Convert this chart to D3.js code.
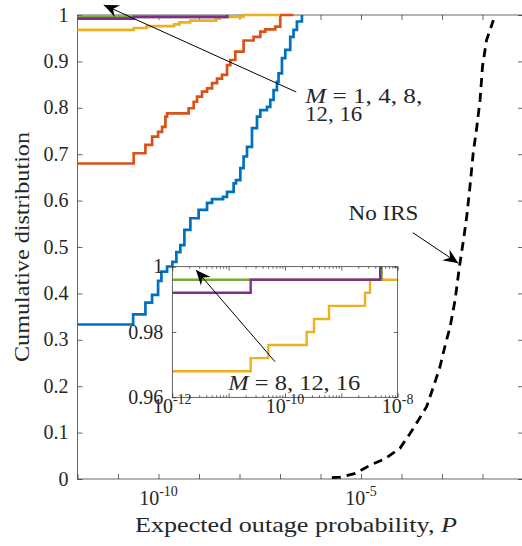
<!DOCTYPE html>
<html>
<head>
<meta charset="utf-8">
<script src="https://cdn.jsdelivr.net/npm/d3@7"></script>
<style>
  body { margin: 0; background: #fff; }
  svg text { font-family: 'Liberation Serif', 'Times New Roman', Times, serif; fill: #262626; }
</style>
</head>
<body>
<svg id="chart"></svg>
<script>
// values, x as log10(P)
const expBlue = [-12, -10.626, -10.323, -10.158, -10.010, -9.928, -9.788, -9.657, -9.559, -9.460, -9.361, -9.213, -9.009, -8.801, -8.678, -8.407, -8.308, -8.145, -8.086, -7.980, -7.899, -7.815, -7.692, -7.568, -7.487, -7.322, -7.240, -7.159, -7.075, -7.036, -6.952, -6.870, -6.747, -6.666, -6.582, -6.459];
const cdfBlue = [0.333, 0.355, 0.380, 0.397, 0.427, 0.447, 0.458, 0.468, 0.489, 0.504, 0.537, 0.562, 0.580, 0.595, 0.603, 0.608, 0.619, 0.637, 0.644, 0.670, 0.695, 0.716, 0.756, 0.781, 0.795, 0.802, 0.817, 0.838, 0.856, 0.874, 0.907, 0.925, 0.953, 0.968, 0.986, 1.0];

const expOrange = [-12, -10.612, -10.323, -10.158, -10.010, -9.911, -9.830, -9.788, -9.255, -9.132, -9.048, -8.925, -8.801, -8.678, -8.555, -8.432, -8.308, -8.227, -8.104, -7.899, -7.652, -7.487, -7.364, -7.117, -6.994, -6.666];
const cdfOrange = [0.680, 0.702, 0.720, 0.738, 0.748, 0.759, 0.781, 0.788, 0.799, 0.813, 0.824, 0.835, 0.842, 0.853, 0.863, 0.871, 0.892, 0.903, 0.921, 0.945, 0.953, 0.964, 0.969, 0.975, 1.0, 1.0];

const expYellow = [-12, -10.609, -10.296, -9.615, -9.485, -9.219, -8.580, -8.491, -7.9, -7.0];
const cdfYellow = [0.968, 0.972, 0.976, 0.980, 0.984, 0.988, 0.992, 0.996, 1.0, 1.0];

const expPurple = [-12, -10.609, -8.311];
const cdfPurple = [0.992, 0.996, 1.0];

const expGreen = [-12, -8.284];
const cdfGreen = [0.996, 1.0];

const expNoIrs = [-5.72, -5.51, -5.14, -4.77, -4.40, -4.04, -3.79, -3.58, -3.38, -3.21, -3.05, -2.93, -2.80, -2.68, -2.57, -2.47, -2.39, -2.31, -2.23, -2.14, -2.06, -2.00, -1.90, -1.73];
const cdfNoIrs = [0.003, 0.004, 0.012, 0.030, 0.044, 0.066, 0.098, 0.127, 0.156, 0.199, 0.242, 0.285, 0.328, 0.384, 0.457, 0.515, 0.565, 0.630, 0.702, 0.759, 0.817, 0.889, 0.946, 0.989];

const xTickExp = d3.range(-12, 0);
const xLabelExp = [-10, -5];
const yTicks = d3.range(0, 11).map(i => i / 10);
const insetXTickExp = [-12, -11, -10, -9, -8];
const insetXLabelExp = [-12, -10, -8];
const insetYTicks = [0.96, 0.98, 1];

const W = 522, H = 546;
const box = { l: 77.5, r: 523, t: 15, b: 479 };
const ibox = { l: 172.3, r: 397.7, t: 266.7, b: 397.3 };
const colors = { blue: "#0072BD", orange: "#D95319", yellow: "#EDB120", purple: "#7E2F8E", green: "#77AC30" };
const serif = "'Liberation Serif', 'Times New Roman', Times, serif";

const svg = d3.select("#chart").attr("width", W).attr("height", H)
    .attr("font-family", serif);

const x = d3.scaleLog().domain([1e-12, 1e-1]).range([box.l, box.r]);
const y = d3.scaleLinear().domain([0, 1]).range([box.b, box.t]);
const xi = d3.scaleLog().domain([1e-12, 1e-8]).range([ibox.l, ibox.r]);
const yi = d3.scaleLinear().domain([0.96, 1]).range([ibox.b, ibox.t]);

function series(ex, cd) {
    return ex.map((e, i) => [Math.pow(10, e), cd[i]]);
}

const lines = [
    { d: series(expBlue, cdfBlue), c: colors.blue },
    { d: series(expOrange, cdfOrange), c: colors.orange },
    { d: series(expYellow, cdfYellow), c: colors.yellow },
    { d: series(expGreen, cdfGreen), c: colors.green },
    { d: series(expPurple, cdfPurple), c: colors.purple }
];

function styleAxis(g) {
    g.select(".domain").remove();
    g.selectAll(".tick line").attr("stroke", "#262626").attr("stroke-width", 0.7);
    g.selectAll(".tick text").remove();
}

// power-of-ten label
function powLabel(sel, k) {
    sel.append("tspan").attr("font-family", serif).text("10");
    sel.append("tspan").attr("font-family", serif).attr("font-size", 14).attr("dy", -9).text(k);
}

// ---- main axes
const mainTicks = xTickExp.map(k => Math.pow(10, k));
svg.append("g").attr("transform", `translate(0,${box.b})`)
    .call(d3.axisBottom(x).tickValues(mainTicks).tickSize(-5).tickFormat(""))
    .call(styleAxis);
svg.append("g").attr("transform", `translate(0,${box.t})`)
    .call(d3.axisTop(x).tickValues(mainTicks).tickSize(-5).tickFormat(""))
    .call(styleAxis);
svg.append("g").attr("transform", `translate(${box.l},0)`)
    .call(d3.axisLeft(y).tickValues(yTicks).tickSize(-5).tickFormat(""))
    .call(styleAxis);
svg.append("g").attr("transform", `translate(${box.r},0)`)
    .call(d3.axisLeft(y).tickValues(yTicks).tickSize(5).tickFormat(""))
    .call(styleAxis);

svg.append("rect")
    .attr("x", box.l).attr("y", box.t)
    .attr("width", box.r - box.l).attr("height", box.b - box.t)
    .attr("fill", "none").attr("stroke", "#262626").attr("stroke-width", 0.7);

svg.selectAll(".ylab").data(yTicks).enter().append("text")
    .attr("font-family", serif)
    .attr("x", box.l - 9).attr("y", d => y(d)).attr("dy", "0.33em")
    .attr("text-anchor", "end").attr("font-size", 20)
    .text(d3.format("~g"));

svg.selectAll(".xlab").data(xLabelExp).enter().append("text")
    .attr("font-family", serif)
    .attr("x", d => x(Math.pow(10, d))).attr("y", box.b + 26)
    .attr("text-anchor", "middle").attr("font-size", 20)
    .each(function(d) { powLabel(d3.select(this), d); });

svg.append("text")
    .attr("font-family", serif)
    .attr("x", 296).attr("y", 532)
    .attr("text-anchor", "middle").attr("font-size", 22)
    .attr("textLength", 322).attr("lengthAdjust", "spacingAndGlyphs")
    .call(t => {
        t.append("tspan").text("Expected outage probability, ");
        t.append("tspan").attr("font-style", "italic").text("P");
    });

svg.append("text")
    .attr("font-family", serif)
    .attr("transform", `translate(29,247) rotate(-90)`)
    .attr("text-anchor", "middle").attr("font-size", 22)
    .attr("textLength", 230).attr("lengthAdjust", "spacingAndGlyphs")
    .text("Cumulative distribution");

// ---- main curves
const stair = d3.line().curve(d3.curveStepAfter).x(d => x(d[0])).y(d => y(d[1]));
lines.forEach(l => {
    svg.append("path").attr("d", stair(l.d))
        .attr("fill", "none").attr("stroke", l.c).attr("stroke-width", 2.7);
});

const dashLine = d3.line().x(d => x(d[0])).y(d => y(d[1]));
svg.append("path").attr("d", dashLine(series(expNoIrs, cdfNoIrs)))
    .attr("fill", "none").attr("stroke", "#000").attr("stroke-width", 2.8)
    .attr("stroke-dasharray", "9,6");

// ---- inset
svg.append("rect")
    .attr("x", ibox.l).attr("y", ibox.t)
    .attr("width", ibox.r - ibox.l).attr("height", ibox.b - ibox.t)
    .attr("fill", "#fff");

svg.append("clipPath").attr("id", "iclip").append("rect")
    .attr("x", ibox.l).attr("y", ibox.t)
    .attr("width", ibox.r - ibox.l).attr("height", ibox.b - ibox.t);

const stairI = d3.line().curve(d3.curveStepAfter).x(d => xi(d[0])).y(d => yi(d[1]));
const ig = svg.append("g").attr("clip-path", "url(#iclip)");
lines.slice(2).forEach(l => {
    ig.append("path").attr("d", stairI(l.d))
        .attr("fill", "none").attr("stroke", l.c).attr("stroke-width", 2.4);
});

const iMinor = xi.ticks().filter(v => Math.abs(Math.log10(v) - Math.round(Math.log10(v))) > 1e-6);
const iMajor = insetXTickExp.map(k => Math.pow(10, k));
[[ibox.b, d3.axisBottom], [ibox.t, d3.axisTop]].forEach(([py, ax]) => {
    svg.append("g").attr("transform", `translate(0,${py})`)
        .call(ax(xi).tickValues(iMajor).tickSize(-4).tickFormat(""))
        .call(styleAxis);
    svg.append("g").attr("transform", `translate(0,${py})`)
        .call(ax(xi).tickValues(iMinor).tickSize(-2).tickFormat(""))
        .call(styleAxis);
});
svg.append("g").attr("transform", `translate(${ibox.l},0)`)
    .call(d3.axisLeft(yi).tickValues(insetYTicks).tickSize(-4).tickFormat(""))
    .call(styleAxis);
svg.append("g").attr("transform", `translate(${ibox.r},0)`)
    .call(d3.axisLeft(yi).tickValues(insetYTicks).tickSize(4).tickFormat(""))
    .call(styleAxis);

svg.append("rect")
    .attr("x", ibox.l).attr("y", ibox.t)
    .attr("width", ibox.r - ibox.l).attr("height", ibox.b - ibox.t)
    .attr("fill", "none").attr("stroke", "#262626").attr("stroke-width", 0.7);

svg.selectAll(".iylab").data(insetYTicks).enter().append("text")
    .attr("font-family", serif)
    .attr("x", ibox.l - 9).attr("y", d => yi(d)).attr("dy", "0.33em")
    .attr("text-anchor", "end").attr("font-size", 20)
    .text(d3.format("~g"));

svg.selectAll(".ixlab").data(insetXLabelExp).enter().append("text")
    .attr("font-family", serif)
    .attr("x", d => xi(Math.pow(10, d))).attr("y", ibox.b + 16)
    .attr("text-anchor", "middle").attr("font-size", 20)
    .each(function(d) { powLabel(d3.select(this), d); });

// ---- annotations
function arrow(sx, sy, fromP, toP) {
    const x1 = sx(Math.pow(10, fromP[0])), y1 = sy(fromP[1]);
    const x2 = sx(Math.pow(10, toP[0])), y2 = sy(toP[1]);
    const ang = Math.atan2(y2 - y1, x2 - x1) * 180 / Math.PI;
    svg.append("line")
        .attr("x1", x1).attr("y1", y1).attr("x2", x2).attr("y2", y2)
        .attr("stroke", "#000").attr("stroke-width", 1);
    svg.append("path")
        .attr("d", "M0,0L-15,-6.5L-10,0L-15,6.5Z")
        .attr("transform", `translate(${x2},${y2}) rotate(${ang})`)
        .attr("fill", "#000");
}

function mathLabel(sx, sy, at, parts, size, len) {
    const t = svg.append("text")
        .attr("font-family", serif)
        .attr("x", sx(Math.pow(10, at[0]))).attr("y", sy(at[1]))
        .attr("font-size", size);
    if (len) t.attr("textLength", len).attr("lengthAdjust", "spacingAndGlyphs");
    parts.forEach(p => {
        const s = t.append("tspan").text(p.t);
        if (p.i) s.attr("font-style", "italic");
    });
    return t;
}

arrow(x, y, [-6.599, 0.834], [-11.351, 1.0216]);
mathLabel(x, y, [-6.377, 0.810], [{ t: "M", i: true }, { t: " = 1, 4, 8," }], 21, 117);
mathLabel(x, y, [-6.377, 0.7716], [{ t: "12, 16" }], 21, 57);

arrow(x, y, [-3.721, 0.531], [-2.597, 0.465]);
mathLabel(x, y, [-5.31, 0.558], [{ t: "No IRS" }], 21, 70);

arrow(xi, yi, [-10.177, 0.9709], [-11.579, 0.999]);
mathLabel(xi, yi, [-11.006, 0.9622], [{ t: "M", i: true }, { t: " = 8, 12, 16" }], 21, 132);
</script>
</body>
</html>
